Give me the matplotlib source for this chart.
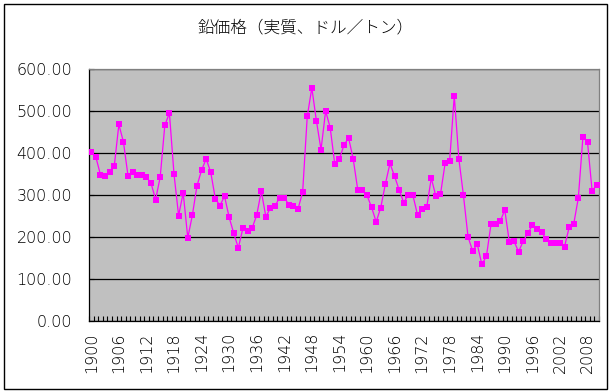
import matplotlib
matplotlib.use("Agg")
import matplotlib.pyplot as plt
from matplotlib.patches import Rectangle

plt.rcParams['font.family'] = ['Noto Sans CJK JP', 'DejaVu Sans']

years = list(range(1900, 2011))
prices = [402, 390, 348, 345, 354, 369, 468, 426, 345, 355,
          348, 348, 343, 328, 289, 343, 466, 495, 350, 251,
          305, 198, 252, 322, 359, 386, 354, 291, 275, 297,
          247, 209, 174, 221, 214, 221, 252, 309, 248, 270,
          274, 294, 294, 277, 274, 267, 307, 487, 555, 476,
          408, 500, 460, 373, 386, 419, 436, 386, 312, 312,
          299, 271, 236, 270, 326, 375, 345, 312, 282, 301,
          299, 253, 267, 271, 340, 297, 302, 375, 382, 536,
          386, 299, 200, 167, 183, 135, 154, 231, 231, 238,
          264, 187, 190, 165, 190, 209, 228, 219, 212, 195,
          185, 185, 185, 177, 223, 231, 293, 438, 426, 310,
          324]
yticks = [0, 100, 200, 300, 400, 500, 600]
title = "鉛価格（実質、ドル／トン）"

W, H = 613, 391
fig = plt.figure(figsize=(W / 100, H / 100), dpi=100)
ax = fig.add_axes([89 / W, 1 - 321 / H, (599 - 89) / W, (321 - 69) / H])

x = list(range(len(years)))
ax.plot(x, prices, color='#FF00FF', lw=0.9, marker='s', markersize=4.2,
        markeredgewidth=0, zorder=3)

ax.set_facecolor('#C0C0C0')
ax.set_xlim(-0.5, len(years) - 0.5)
ax.set_ylim(0, 600)
ax.set_yticks(yticks)
ax.set_yticklabels([f"{v:.2f}" for v in yticks], fontfamily='DejaVu Sans',
                   fontsize=11.5, fontweight='light')
ax.grid(axis='y', color='black', lw=0.9, zorder=1)
ax.set_axisbelow(True)

# category boundaries ticks
ax.set_xticks([i - 0.5 for i in range(len(years) + 1)], minor=True)
ax.set_xticks([i for i in range(0, len(years), 6)])
ax.set_xticklabels([str(years[i]) for i in range(0, len(years), 6)],
                   rotation=90, fontfamily='DejaVu Sans', fontsize=11.5,
                   fontweight='light')
ax.tick_params(axis='x', which='major', length=0, pad=8)
ax.tick_params(axis='x', which='minor', direction='in', length=3.5, width=0.8)
ax.tick_params(axis='y', direction='in', length=3.5, width=0.8, pad=12)

for s in ['left', 'bottom']:
    ax.spines[s].set_color('black')
    ax.spines[s].set_linewidth(0.9)
for s in ['top', 'right']:
    ax.spines[s].set_color('#808080')
    ax.spines[s].set_linewidth(0.9)

fig.text(306 / W, 1 - 28 / H, title, ha='center', va='center', fontsize=12,
         fontweight='light')

fig.patches.append(Rectangle((3.5 / W, 1 - 388.5 / H), (607 - 3.5) / W, (388.5 - 4) / H,
                             transform=fig.transFigure, fill=False, edgecolor='black',
                             lw=1.0))

fig.savefig('out.png', dpi=100)
